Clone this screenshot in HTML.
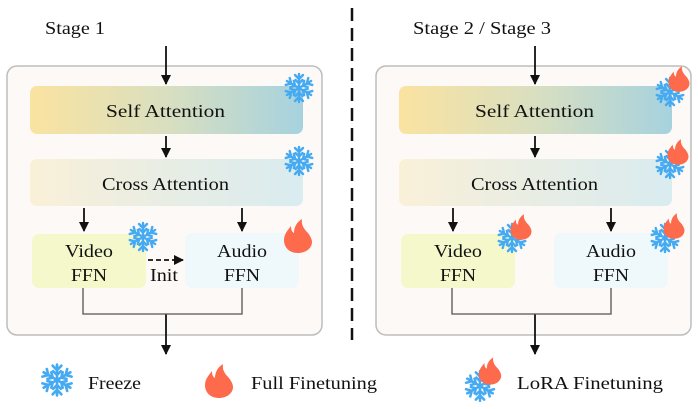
<!DOCTYPE html>
<html><head><meta charset="utf-8"><style>
body{margin:0;background:#fff}
svg text{font-family:"Liberation Serif",serif;fill:#111}
</style></head><body>
<svg width="698" height="404" viewBox="0 0 698 404" xmlns="http://www.w3.org/2000/svg">
<defs>
<linearGradient id="sa" x1="0" x2="1"><stop offset="0" stop-color="#fae3a0"/><stop offset="0.5" stop-color="#d9dfc0"/><stop offset="1" stop-color="#a6d2df"/></linearGradient>
<linearGradient id="ca" x1="0" x2="1"><stop offset="0" stop-color="#faf0d8"/><stop offset="0.5" stop-color="#e8ede4"/><stop offset="1" stop-color="#d9ecf0"/></linearGradient>
<g id="sf" stroke="#45aaf2" stroke-width="2.4" stroke-linecap="round" fill="none">
<g id="arm"><line x1="0" y1="0" x2="0" y2="-14"/><polyline points="-4,-13 0,-9 4,-13"/><polyline points="-3.5,-8 0,-4.5 3.5,-8"/></g>
<use href="#arm" transform="rotate(60)"/><use href="#arm" transform="rotate(120)"/><use href="#arm" transform="rotate(180)"/><use href="#arm" transform="rotate(240)"/><use href="#arm" transform="rotate(300)"/>
</g>
<path id="fl" fill="#fd6a4c" d="M0 17 C-9 17 -14 11 -14 4 C-14 -2 -10 -6 -7 -10 C-7 -6 -6 -4 -4 -3 C-4 -9 -1 -14 4 -17 C3 -11 6 -7 10 -3 C13 1 14 4 14 6 C14 12 8 17 0 17Z"/>
<marker id="ah" markerWidth="10" markerHeight="10" refX="9" refY="5" orient="auto" markerUnits="userSpaceOnUse"><path d="M0 0 L10 5 L0 10Z" fill="#111"/></marker>
</defs>
<text x="45" y="34" font-size="18" textLength="60" lengthAdjust="spacingAndGlyphs">Stage 1</text>
<text x="413" y="34" font-size="18" textLength="138" lengthAdjust="spacingAndGlyphs">Stage 2 / Stage 3</text>
<line x1="352" y1="8" x2="352" y2="340" stroke="#111" stroke-width="2.5" stroke-dasharray="13,7"/>

<g id="panel">
<rect x="7" y="66" width="315" height="269" rx="10" fill="#fdf9f6" stroke="#bdbdbd" stroke-width="1.5"/>
<rect x="30" y="86" width="273" height="48" rx="7" fill="url(#sa)"/>
<rect x="30" y="159" width="273" height="47" rx="7" fill="url(#ca)"/>
<rect x="32" y="234" width="114" height="54" rx="7" fill="#f4f8cb"/>
<rect x="185" y="233" width="114" height="55" rx="7" fill="#eff8fb"/>
<text x="106" y="117" font-size="18" textLength="119" lengthAdjust="spacingAndGlyphs">Self  Attention</text>
<text x="102" y="190" font-size="18" textLength="127" lengthAdjust="spacingAndGlyphs">Cross Attention</text>
<text x="65" y="257" font-size="18" textLength="48" lengthAdjust="spacingAndGlyphs">Video</text>
<text x="71" y="281" font-size="18" textLength="36" lengthAdjust="spacingAndGlyphs">FFN</text>
<text x="217" y="257" font-size="18" textLength="50" lengthAdjust="spacingAndGlyphs">Audio</text>
<text x="224" y="281" font-size="18" textLength="36" lengthAdjust="spacingAndGlyphs">FFN</text>
<g stroke="#111" stroke-width="1.8"><line x1="166" y1="46" x2="166" y2="84" marker-end="url(#ah)"/>
<line x1="166" y1="136" x2="166" y2="157" marker-end="url(#ah)"/>
<line x1="84" y1="208" x2="84" y2="231" marker-end="url(#ah)"/>
<line x1="242" y1="208" x2="242" y2="231" marker-end="url(#ah)"/>
<line x1="166" y1="314" x2="166" y2="354" marker-end="url(#ah)"/></g>
<polyline points="83,288 83,314 242,314 242,288" fill="none" stroke="#555" stroke-width="1.3"/>
</g>
<use href="#panel" transform="translate(369,0)"/>

<line x1="148" y1="260" x2="183" y2="260" stroke="#111" stroke-width="1.8" stroke-dasharray="5,3" marker-end="url(#ah)"/>
<text x="150" y="281" font-size="18" textLength="28" lengthAdjust="spacingAndGlyphs">Init</text>

<use href="#sf" transform="translate(299,88)"/>
<use href="#sf" transform="translate(299,161)"/>
<use href="#sf" transform="translate(143,237)"/>
<use href="#fl" transform="translate(298,236)"/>

<use href="#sf" transform="translate(670,92)"/><use href="#fl" transform="translate(679,79) scale(0.75)"/>
<use href="#sf" transform="translate(670,164)"/><use href="#fl" transform="translate(678,152) scale(0.75)"/>
<use href="#sf" transform="translate(512,238)"/><use href="#fl" transform="translate(521,227) scale(0.75)"/>
<use href="#sf" transform="translate(665,238)"/><use href="#fl" transform="translate(674,226) scale(0.75)"/>

<use href="#sf" transform="translate(57,380) scale(1.1)"/>
<text x="88" y="389" font-size="18" textLength="53" lengthAdjust="spacingAndGlyphs">Freeze</text>
<use href="#fl" transform="translate(219,381)"/>
<text x="251" y="389" font-size="18" textLength="126" lengthAdjust="spacingAndGlyphs">Full Finetuning</text>
<use href="#sf" transform="translate(480,386) scale(1.05)"/><use href="#fl" transform="translate(490,371) scale(0.8)"/>
<text x="517" y="389" font-size="18" textLength="146" lengthAdjust="spacingAndGlyphs">LoRA Finetuning</text>
</svg>
</body></html>
